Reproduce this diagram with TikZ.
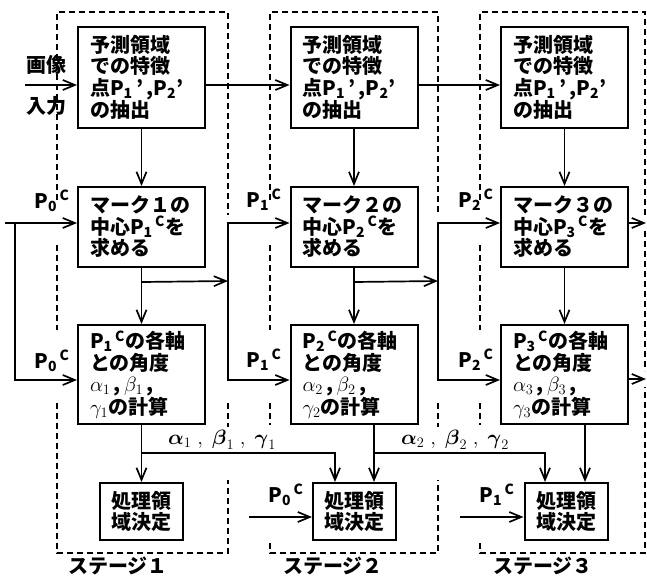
\documentclass[tikz,border=0pt]{standalone}
\usepackage{amsmath}
\usepackage{fontspec}
\setmainfont{Noto Sans CJK JP}
\usetikzlibrary{arrows.meta}

\newcommand{\pc}[1]{P$_{\text{#1}}{}^{\,\text{C}}$}

\begin{document}
\begin{tikzpicture}[x=1pt,y=-1pt,line width=1.7pt,
  >={Straight Barb[length=12pt,width=10pt]},
  every node/.style={font=\fontsize{20pt}{21.5pt}\selectfont\bfseries},
  procbox/.style={draw,line width=2pt,minimum width=127pt,inner xsep=12pt,text width=103pt,align=left},
  smallbox/.style={draw,line width=2pt,minimum width=83pt,minimum height=57pt,inner sep=0pt,align=center},
  stage/.style={line width=1.6pt,dash pattern=on 6pt off 4pt}]
\useasboundingbox (0,0) rectangle (647,579);

% stage 1
\node[procbox,minimum height=101pt] (y1) at (141.5,77.5) {予測領域\\での特徴\\点P$_{\text{1}}$\,'\,,P$_{\text{2}}$'\\の抽出};
\node[procbox,minimum height=80pt] (m1) at (141.5,227) {マーク１の\\中心\pc{1}を\\求める};
\node[procbox,minimum height=99pt] (k1) at (141.5,374.5) {\pc{1}の各軸\\との角度\\$\alpha_{1}$\,,\,$\beta_{1}$\,,\\$\gamma_{1}$の計算};
\node[smallbox] (r1) at (141.5,511.5) {処理領\\域決定};

% stage 2
\node[procbox,minimum height=101pt] (y2) at (354,77.5) {予測領域\\での特徴\\点P$_{\text{1}}$\,'\,,P$_{\text{2}}$'\\の抽出};
\node[procbox,minimum height=80pt] (m2) at (354,227) {マーク２の\\中心\pc{2}を\\求める};
\node[procbox,minimum height=99pt] (k2) at (354,374.5) {\pc{2}の各軸\\との角度\\$\alpha_{2}$\,,\,$\beta_{2}$\,,\\$\gamma_{2}$の計算};
\node[smallbox] (r2) at (354.5,511.5) {処理領\\域決定};

% stage 3
\node[procbox,minimum height=101pt] (y3) at (564.5,77.5) {予測領域\\での特徴\\点P$_{\text{1}}$\,'\,,P$_{\text{2}}$'\\の抽出};
\node[procbox,minimum height=80pt] (m3) at (564.5,227) {マーク３の\\中心\pc{3}を\\求める};
\node[procbox,minimum height=99pt] (k3) at (564.5,374.5) {\pc{3}の各軸\\との角度\\$\alpha_{3}$\,,\,$\beta_{3}$\,,\\$\gamma_{3}$の計算};
\node[smallbox] (r3) at (566,511.5) {処理領\\域決定};

% labels
\node (g1) at (46,65) {画像};
\node (g2) at (46,106) {入力};
\node (p1) at (52,201) {\pc{0}};
\node (p2) at (52,361) {\pc{0}};
\node (p3) at (264,200) {\pc{1}};
\node (p4) at (264,360) {\pc{1}};
\node (p5) at (476,200) {\pc{2}};
\node (p6) at (476,360) {\pc{2}};
\node (p7) at (286,495) {\pc{0}};
\node (p8) at (497,495) {\pc{1}};
\node (a1) at (222,440) {$\boldsymbol{\alpha}_{1}\;,\;\boldsymbol{\beta}_{1}\;,\;\boldsymbol{\gamma}_{1}$};
\node (a2) at (455,440) {$\boldsymbol{\alpha}_{2}\;,\;\boldsymbol{\beta}_{2}\;,\;\boldsymbol{\gamma}_{2}$};
\node (t1) at (118,566) {ステージ１};
\node (t2) at (333,566) {ステージ２};
\node (t3) at (543,566) {ステージ３};

% free ends and junctions
\coordinate (in) at (25,85);
\coordinate (s0) at (5,223);
\coordinate (f0) at (15,223);
\coordinate (c1) at (228,281);
\coordinate (c2) at (438,281);
\coordinate (q2) at (249,517);
\coordinate (q3) at (460,517);
\coordinate (o1) at (646,223);
\coordinate (o2) at (646,379);

% image input
\draw[->] (in) -- ([yshift=-7.5pt]y1.west);
\draw[->] ([yshift=-7.5pt]y1.east) -- ([yshift=-7.5pt]y2.west);
\draw[->] ([yshift=-7.5pt]y2.east) -- ([yshift=-7.5pt]y3.west);

\draw[->] (y1.south) -- (m1.north);
\draw[->] (y2.south) -- (m2.north);
\draw[->] (y3.south) -- (m3.north);
\draw[->] (m1.south) -- (k1.north);
\draw[->] (m2.south) -- (k2.north);
\draw[->] (m3.south) -- (k3.north);

% centre points passed on
\draw[->] (s0) -- ([yshift=4pt]m1.west);
\draw[->] (f0) |- ([yshift=-5.5pt]k1.west);
\draw[->] ([yshift=-14pt]m1.south) -- (c1);
\draw[->] (c1) |- ([yshift=4pt]m2.west);
\draw[->] (c1) |- ([yshift=-5.5pt]k2.west);
\draw[->] ([yshift=-14pt]m2.south) -- (c2);
\draw[->] (c2) |- ([yshift=4pt]m3.west);
\draw[->] (c2) |- ([yshift=-5.5pt]k3.west);
\draw[->] ([yshift=4pt]m3.east) -- (o1);
\draw[->] ([yshift=-4.5pt]k3.east) -- (o2);

% angles
\draw[->] (k1.south) -- (r1.north);
\draw[->] ([yshift=-28pt]k1.south) -| ([xshift=-19.5pt]r2.north);
\draw[->] ([xshift=20pt]k2.south) -- ([xshift=19.5pt]r2.north);
\draw[->] ([xshift=20pt,yshift=-28pt]k2.south) -| ([xshift=-21pt]r3.north);
\draw[->] ([xshift=20.5pt]k3.south) -- ([xshift=19pt]r3.north);
\draw[->] (q2) -- ([yshift=-5.5pt]r2.west);
\draw[->] (q3) -- ([yshift=-5.5pt]r3.west);

% stage frames
\draw[stage] (57,200) -- (57,12) -- (228,12) -- (228,215);
\draw[stage] (57,245) -- (57,330);
\draw[stage] (57,403) -- (57,553) -- (228,553) -- (228,480);
\draw[stage] (228,403) -- (228,427);

\draw[stage] (270,200) -- (270,12) -- (438,12) -- (438,215);
\draw[stage] (270,245) -- (270,330);
\draw[stage] (270,403) -- (270,425);
\draw[stage] (270,543) -- (270,553) -- (438,553) -- (438,480);
\draw[stage] (438,403) -- (438,427);

\draw[stage] (480,200) -- (480,12) -- (645,12) -- (645,215);
\draw[stage] (645,231) -- (645,371);
\draw[stage] (480,245) -- (480,330);
\draw[stage] (480,403) -- (480,425);
\draw[stage] (480,543) -- (480,553) -- (645,553) -- (645,387);
\end{tikzpicture}
\end{document}
